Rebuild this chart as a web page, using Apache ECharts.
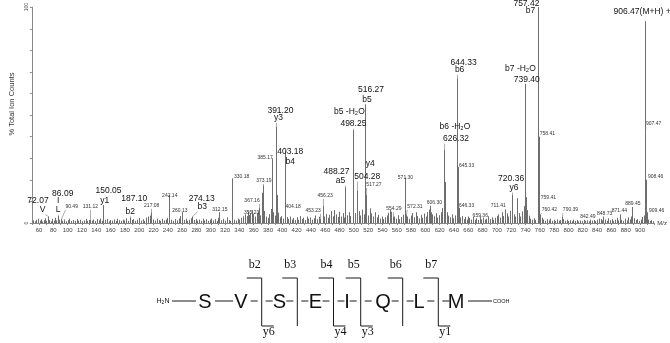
<!DOCTYPE html>
<html><head><meta charset="utf-8">
<script src="https://cdn.jsdelivr.net/npm/echarts@6/dist/echarts.min.js"></script>
<style>html,body{margin:0;padding:0;background:#fff}#c{width:670px;height:343px}</style>
</head><body><div id="c"></div>
<script>
// ---------- DATA ----------
const mainPeaks = [
 [72.07,3],[86.09,3.5],[90.49,1.8],[131.12,1.6],[150.05,8.3],[187.10,2.5],[217.08,5],[242.14,13],
 [260.13,5],[274.13,3],[312.15,5],[330.18,20.7],[355.23,4.5],[367.16,7],[372.19,14],[373.19,17.5],
 [385.17,30],[391.20,44.7],[392.21,13],[403.18,33.6],[404.18,4],[453.23,2],[456.23,8],[488.27,16.6],
 [498.25,43],[499.26,12],[504.28,15],[516.27,55],[517.27,13],[554.29,3],[571.30,21],[572.31,4],
 [606.30,8],[607.30,5],[626.32,34],[627.32,19],[644.33,67],[645.33,26],[646.33,7],[659.36,3],
 [711.41,6],[720.36,13],[721.37,5],[728.40,11.5],[739.40,64.5],[740.41,12],[757.42,100],[758.41,40],
 [759.41,10],[760.42,4],[790.39,3],[842.49,2],[848.73,3],[871.44,4],[889.45,7.4],[906.47,93.5],
 [907.47,43],[908.46,20],[909.46,5]
];
const noisePeaks = [
 [52.1,1.2],[54.3,0.8],[56.0,1.5],[57.9,0.9],[59.2,2.0],[61.4,1.1],[63.0,1.7],[64.8,0.7],[66.5,1.3],[68.2,2.2],
 [70.1,1.0],[74.3,1.4],[76.0,0.8],[78.4,1.9],[80.2,1.1],[82.6,2.4],[84.1,1.2],[88.3,1.5],[92.7,1.0],[95.1,1.6],
 [97.4,0.8],[99.8,1.3],[102.1,2.0],[104.5,0.9],[107.0,1.4],[110.2,1.0],[112.6,1.8],[115.1,1.1],[117.4,1.5],[120.0,0.8],
 [122.3,1.2],[125.1,1.9],[127.6,1.0],[129.2,1.4],[133.5,1.1],[136.1,1.6],[138.4,0.9],[141.0,1.8],[143.2,1.2],[145.7,2.1],
 [147.9,1.0],[152.4,1.5],[155.0,1.9],[157.3,0.8],[159.6,1.4],[162.1,1.1],[164.8,1.7],[167.0,0.9],[169.5,2.0],[172.2,1.3],
 [174.6,1.0],[176.9,1.6],[179.3,1.2],[181.8,2.2],[184.1,1.0],[189.6,1.4],[192.0,1.8],[194.5,1.0],[197.2,1.5],[199.8,2.3],
 [202.1,1.1],[204.6,1.7],[207.3,1.0],[209.9,2.5],[212.4,3.0],[214.8,3.4],[219.6,1.6],[222.0,1.1],[224.7,2.0],[227.1,1.3],
 [229.5,1.0],[232.0,1.9],[234.6,1.2],[237.1,1.6],[239.5,2.4],[244.8,1.5],[247.2,1.0],[249.8,1.8],[252.4,1.2],[255.0,2.1],
 [257.6,3.2],[262.7,1.4],[265.0,2.0],[267.4,1.0],[269.9,1.5],[272.0,2.2],[276.3,1.4],[278.8,1.9],[281.2,1.1],[283.7,1.6],
 [286.0,1.0],[288.5,2.0],[291.0,1.2],[293.4,1.7],[296.0,1.0],[298.5,1.5],[301.0,2.1],[303.6,1.2],[306.0,1.8],[308.6,1.0],
 [310.2,2.4],[314.8,1.3],[317.2,1.9],[319.8,1.1],[322.3,2.6],[324.9,1.4],[327.3,1.0],[332.6,1.5],[335.0,1.1],[337.6,2.0],
 [340.1,1.6],[342.7,2.4],[345.0,3.1],[347.6,4.0],[350.1,3.3],[352.6,5.2],[354.0,3.8],[357.1,6.0],[359.4,4.2],[361.8,3.0],
 [364.2,4.5],[366.0,5.0],[369.4,3.5],[375.0,5.6],[377.2,3.0],[379.6,2.4],[381.8,4.1],[383.5,6.5],[387.0,5.0],[389.3,3.4],
 [394.0,4.8],[396.4,2.6],[398.6,3.2],[400.9,2.0],[406.2,2.8],[408.5,1.9],[410.8,3.0],[413.0,1.6],[415.4,2.3],[417.8,1.4],
 [420.1,2.7],[422.5,1.5],[424.8,3.2],[427.0,1.8],[429.5,2.5],[431.9,1.4],[434.2,3.0],[436.6,2.0],[439.0,2.6],[441.3,1.5],
 [443.7,2.2],[446.0,3.5],[448.4,1.8],[450.8,2.9],[458.5,3.0],[460.9,4.2],[463.2,2.4],[465.6,3.8],[468.0,5.5],[470.3,3.1],
 [472.7,6.0],[475.0,4.0],[477.3,2.8],[479.6,5.2],[482.0,3.0],[484.4,4.6],[486.2,2.5],[490.4,3.6],[492.8,5.0],[495.1,3.2],
 [501.5,4.6],[506.8,5.5],[509.2,3.5],[511.6,6.2],[514.0,4.0],[519.8,3.5],[522.2,6.8],[524.6,4.5],[527.0,3.0],[529.4,5.0],
 [531.7,2.6],[534.0,3.8],[536.4,2.0],[538.8,3.0],[541.1,1.8],[543.5,2.7],[545.9,3.5],[548.2,4.8],[550.6,6.0],[552.5,5.2],
 [556.7,3.0],[559.1,2.0],[561.4,3.6],[563.8,1.8],[566.2,2.8],[568.6,3.9],[574.5,3.0],[576.8,2.0],[579.2,3.4],[581.6,4.6],
 [584.0,2.6],[586.3,5.0],[588.7,3.2],[591.0,2.1],[593.4,3.8],[595.8,2.4],[598.1,4.4],[600.5,3.0],[602.9,5.0],[604.6,6.2],
 [609.5,4.0],[612.0,3.1],[614.3,4.6],[616.6,2.5],[619.0,3.6],[621.4,5.0],[623.8,7.0],[629.6,5.0],[632.0,3.4],[634.3,2.6],
 [636.7,4.0],[639.0,2.2],[641.4,3.5],[648.7,2.6],[651.0,3.2],[653.4,1.8],[655.8,2.8],[657.5,1.6],[661.6,2.4],[664.0,1.6],
 [666.4,2.8],[668.7,1.5],[671.1,2.2],[673.5,1.4],[675.8,3.0],[678.2,1.7],[680.6,2.5],[682.9,1.5],[685.3,2.0],[687.7,3.1],
 [690.0,1.8],[692.4,2.6],[694.8,1.5],[697.1,2.4],[699.5,3.2],[701.8,4.0],[704.2,2.5],[706.6,5.0],[709.0,3.2],[713.7,4.5],
 [716.1,3.0],[718.5,5.6],[723.2,4.0],[725.6,3.0],[730.3,4.6],[732.7,3.0],[735.0,5.4],[737.3,7.8],[742.0,6.0],[744.4,3.4],
 [746.8,2.0],[749.2,1.5],[751.5,2.2],[753.9,1.4],[762.6,2.4],[765.0,1.6],[767.4,1.0],[769.8,1.8],[772.1,1.2],[774.5,2.0],
 [776.9,1.0],[779.3,1.5],[781.6,0.9],[784.0,1.7],[786.4,1.1],[788.6,1.4],[792.6,1.8],[795.0,1.0],[797.4,1.5],[799.7,0.9],
 [802.1,1.3],[804.5,0.8],[806.9,1.6],[809.2,1.0],[811.6,1.4],[814.0,0.8],[816.4,1.2],[818.7,0.9],[821.1,1.5],[823.5,1.0],
 [825.9,1.3],[828.2,0.8],[830.6,1.6],[833.0,1.1],[835.4,1.4],[837.7,0.9],[840.1,1.5],[844.9,1.8],[846.7,1.2],[851.0,1.6],
 [853.4,1.0],[855.8,2.2],[858.1,1.3],[860.5,1.8],[862.9,1.0],[865.2,1.5],[867.6,2.4],[869.5,1.2],[874.0,1.5],[876.3,1.0],
 [878.7,2.0],[881.1,1.2],[883.4,2.6],[885.8,1.6],[887.6,3.0],[891.5,2.2],[893.9,1.4],[896.3,1.8],[898.6,1.0],[901.0,1.6],
 [903.4,2.8],[905.0,3.5],[911.0,1.6],[913.5,1.0],[915.8,1.3],[918.0,0.8]
];
// annotation texts attached to peaks (m/z of the peak, text)
const annMz = [72.07,72.07,86.09,86.09,86.09,150.05,150.05,187.10,187.10,274.13,274.13,391.20,391.20,403.18,403.18,
 488.27,488.27,498.25,498.25,516.27,516.27,504.28,504.28,626.32,626.32,644.33,644.33,739.40,739.40,757.42,757.42,906.47,
 720.36,720.36,
 90.49,131.12,217.08,242.14,260.13,312.15,330.18,355.23,367.16,373.19,385.17,404.18,453.23,456.23,517.27,554.29,571.30,
 572.31,606.30,645.33,646.33,659.36,711.41,758.41,759.41,760.42,790.39,842.49,848.73,871.44,889.45,907.47,908.46,909.46];
const annText = ['72.07','V','86.09','I','L','150.05','y1','187.10','b2','274.13','b3','391.20','y3','403.18','b4',
 '488.27','a5','b5 -H\u2082O','498.25','516.27','b5','y4','504.28','b6 -H\u2082O','626.32','644.33','b6','b7 -H\u2082O','739.40','757.42','b7','906.47(M+H) +',
 '720.36','y6',
 '90.49','131.12','217.08','242.14','260.13','312.15','330.18','355.23','367.16','373.19','385.17','404.18','453.23','456.23','517.27','554.29','571.30',
 '572.31','606.30','645.33','646.33','659.36','711.41','758.41','759.41','760.42','790.39','842.49','848.73','871.44','889.45','907.47','908.46','909.46'];
// peptide
const residues = ['S','V','S','E','I','Q','L','M'];
const bIons = ['b2','b3','b4','b5','b6','b7'];
const yIons = ['y6','','y4','y3','','y1'];

// ---------- LAYOUT (pixel offsets / positions, not data) ----------
// [dx from peak, dy from baseline, big?, leader?]
const annLayout = [
 [-9.7,-22,1,0],[-5.2,-13,1,1],[5,-29,1,0],[0.5,-22,1,0],[0.5,-13,1,1],[5,-32.3,1,0],[1.2,-22,1,1],[4.3,-24,1,0],[0.3,-11.3,1,1],
 [9.4,-24,1,0],[10,-16,1,1],[4.4,-112.3,1,0],[2.4,-105,1,1],[5.6,-71,1,0],[5.6,-61,1,0],
 [-8.9,-51.3,1,0],[-4.9,-42,1,1],[-3.2,-111.3,1,0],[0.8,-99,1,1],[5.5,-133,1,0],[1.5,-123.7,1,1],[13.3,-59,1,0],[10.3,-46,1,1],
 [10.7,-96,1,0],[11.7,-84,1,1],[6.5,-160,1,0],[2.5,-153,1,1],[-4.7,-154,1,0],[1.6,-143,1,1],[-11.6,-219,1,0],[-7.6,-212,1,0],[-2.5,-211.3,1,0],
 [-0.4,-44,1,0],[2.6,-35.3,1,1],
 [10.8,-16,0,1],[0.4,-16,0,1],[0.3,-17.3,0,1],[0.4,-27,0,1],[-2.3,-12.3,0,1],[0.5,-13,0,1],[9.2,-46,0,1],[1.4,-10.3,0,1],
 [-6.8,-22,0,1],[0.7,-42,0,1],[-6.6,-65.3,0,1],[7.9,-16,0,1],[-7.2,-12.3,0,1],[2.6,-27,0,1],[7.8,-38,0,1],[1.1,-14,0,1],
 [0.6,-45.7,0,1],[9.4,-16.3,0,1],[4.4,-20.3,0,1],[8.7,-57.3,0,1],[8,-17,0,1],[12.4,-7.3,0,1],[-6.8,-17,0,1],[8.7,-89,0,1],
 [9,-25,0,1],[9.2,-13,0,1],[8.9,-13,0,1],[-11,-6.3,0,1],[1.3,-9,0,1],[-0.3,-12.3,0,1],[0.4,-19,0,1],[8.2,-99,0,1],[9.5,-46,0,1],[9.8,-12.3,0,1]
];
const residueX = [205,241,279.5,315.5,347,383,419,456];
const cutX = [261.7,297.3,333.5,360.7,402.7,438.3];
const seqY = 301;

const FONT = "'Liberation Sans', Arial, sans-serif";
const SERIF = "'Liberation Serif', 'Times New Roman', serif";
const BIG = 8.5, SMALL = 5;

const mainMap = {};
mainPeaks.forEach(p => { mainMap[p[0].toFixed(2)] = p[1]; });
const allPeaks = mainPeaks.concat(noisePeaks);

const mctx = document.createElement('canvas').getContext('2d');
function textW(t, fs) { mctx.font = fs + 'px ' + FONT; return mctx.measureText(t).width; }

const chart = echarts.init(document.getElementById('c'), null, {renderer: 'canvas'});

// ---------- peptide graphic ----------
const g = [];
const lineStyle = {stroke: '#1a1a1a', lineWidth: 1};
g.push({type:'text', x:163, y:seqY, style:{text:'{a|H}{s|2}{a|N}', align:'center', verticalAlign:'middle',
  rich:{a:{fontSize:7, fontFamily:FONT, fill:'#111'}, s:{fontSize:5, fontFamily:FONT, fill:'#111', padding:[4,0,0,0]}}}});
g.push({type:'line', shape:{x1:172, y1:seqY, x2:196, y2:seqY}, style:lineStyle});
g.push({type:'line', shape:{x1:215, y1:seqY, x2:233, y2:seqY}, style:lineStyle});
g.push({type:'line', shape:{x1:468, y1:seqY, x2:492, y2:seqY}, style:lineStyle});
g.push({type:'text', x:493, y:seqY, style:{text:'COOH', fontSize:5.5, fontFamily:FONT, fill:'#111', align:'left', verticalAlign:'middle'}});
residues.forEach((r, i) => {
  g.push({type:'text', x:residueX[i], y:seqY + 1, style:{text:r, fontSize:20, fontFamily:FONT, fill:'#111', align:'center', verticalAlign:'middle'}});
});
cutX.forEach((p, i) => {
  g.push({type:'line', shape:{x1:p-11, y1:seqY, x2:p-4, y2:seqY}, style:lineStyle});
  g.push({type:'line', shape:{x1:p+4, y1:seqY, x2:p+11, y2:seqY}, style:lineStyle});
  g.push({type:'polyline', shape:{points:[[p-15,278],[p,278],[p,326]]}, style:{stroke:'#1a1a1a', lineWidth:1, fill:null}});
  g.push({type:'text', x:p-7, y:271, style:{text:bIons[i], fontSize:12, fontFamily:SERIF, fill:'#111', align:'center', verticalAlign:'bottom'}});
  if (yIons[i]) {
    g.push({type:'line', shape:{x1:p, y1:326, x2:p+12, y2:326}, style:lineStyle});
    g.push({type:'text', x:p+7, y:326, style:{text:yIons[i], fontSize:12, fontFamily:SERIF, fill:'#111', align:'center', verticalAlign:'top'}});
  }
});

const option = {
  animation: false,
  backgroundColor: '#fff',
  grid: {left: 16, right: 15, top: 6, bottom: 120, containLabel: false},
  xAxis: {
    type: 'value', min: 50, max: 920, interval: 10,
    name: 'M/z', nameLocation: 'end', nameGap: 3,
    nameTextStyle: {fontSize: 6, fontFamily: FONT, color: '#333', verticalAlign: 'middle'},
    axisLine: {lineStyle: {color: '#888', width: 1}},
    axisTick: {show: true, length: 2, lineStyle: {color: '#888'}},
    splitLine: {show: false},
    axisLabel: {fontSize: 6, fontFamily: FONT, color: '#444', margin: 4,
      formatter: v => (v % 20 === 0 && v <= 900) ? String(v) : ''}
  },
  yAxis: {
    type: 'value', min: 0, max: 100, interval: 10,
    name: '% Total Ion Counts', nameLocation: 'middle', nameRotate: 90, nameGap: 12,
    nameTextStyle: {fontSize: 7.5, fontFamily: FONT, color: '#333', padding: [0, 0, 0, 22]},
    axisLine: {show: true, lineStyle: {color: '#888', width: 1}},
    axisTick: {show: true, length: 2, lineStyle: {color: '#888'}},
    splitLine: {show: false},
    axisLabel: {fontSize: 5, fontFamily: FONT, color: '#444', margin: 3, rotate: 90,
      align: 'center', verticalAlign: 'bottom',
      formatter: v => (v === 0 || v === 100) ? String(v) : ''}
  },
  series: [
    {
      type: 'custom', name: 'peaks', clip: false,
      data: allPeaks,
      renderItem: (params, api) => {
        const b = api.coord([api.value(0), 0]);
        const t = api.coord([api.value(0), api.value(1)]);
        const x = Math.round(b[0]) + 0.5;
        return {type:'line', shape:{x1:x, y1:b[1], x2:x, y2:t[1]}, style:{stroke:'#6e6e6e', lineWidth:1}};
      }
    },
    {
      type: 'custom', name: 'labels', clip: false, z: 5,
      data: annMz.map((m, i) => [m, mainMap[m.toFixed(2)] || 0, i]),
      renderItem: (params, api) => {
        const i = api.value(2);
        const L = annLayout[i];
        const big = L[2] === 1;
        const fs = big ? BIG : SMALL;
        const txt = annText[i];
        const b = api.coord([api.value(0), 0]);
        const t = api.coord([api.value(0), api.value(1)]);
        const px = Math.round(b[0]) + 0.5;
        const cx = b[0] + L[0], cy = b[1] + L[1];
        const children = [{type:'text', x:cx, y:cy, style:{text:txt, fontSize:fs, fontFamily:FONT,
          fill: big ? '#111' : '#333', align:'center', verticalAlign:'middle'}}];
        if (L[3]) {
          const w = textW(txt, fs);
          const left = cx - w / 2, right = cx + w / 2;
          const bottom = cy + fs * 0.5 + 0.5;
          if (t[1] > bottom + 1) {
            const ex = Math.min(Math.max(px, left), right);
            children.push({type:'line', shape:{x1:ex, y1:bottom, x2:px, y2:t[1]}, style:{stroke:'#777', lineWidth:0.6}});
          }
        }
        return {type:'group', children};
      }
    }
  ],
  graphic: g
};
chart.setOption(option);
</script>
</body></html>
